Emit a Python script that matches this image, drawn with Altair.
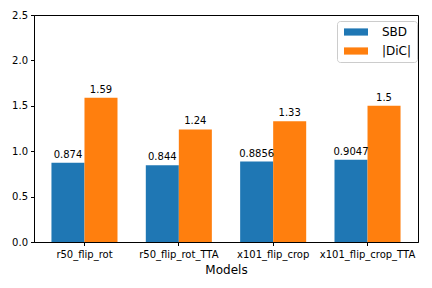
import altair as alt
import pandas as pd

models = ["r50_flip_rot", "r50_flip_rot_TTA", "x101_flip_crop", "x101_flip_crop_TTA"]
sbd = [0.874, 0.844, 0.8856, 0.9047]
dic = [1.59, 1.24, 1.33, 1.5]
sbd_labels = ["0.874", "0.844", "0.8856", "0.9047"]
dic_labels = ["1.59", "1.24", "1.33", "1.5"]
series = ["SBD", "|DiC|"]
colors = ["#1f77b4", "#ff7f0e"]

rows = []
for m, v, l in zip(models, sbd, sbd_labels):
    rows.append({"model": m, "series": series[0], "value": v, "label": l})
for m, v, l in zip(models, dic, dic_labels):
    rows.append({"model": m, "series": series[1], "value": v, "label": l})
df = pd.DataFrame(rows)

FONT = "DejaVu Sans"

xenc = alt.X("model:N", sort=models, title="Models",
             scale=alt.Scale(paddingInner=0.3, paddingOuter=0.185),
             axis=alt.Axis(labelAngle=0, labelFontSize=10, titleFontSize=12,
                           labelColor="black", titleColor="black", tickColor="black",
                           domainColor="black", tickSize=3.5, labelPadding=4,
                           titlePadding=5, titleFontWeight="normal"))
xoff = alt.XOffset("series:N", sort=series, scale=alt.Scale(paddingInner=0, paddingOuter=0))
yenc = alt.Y("value:Q", title=None,
             scale=alt.Scale(domain=[0, 2.5], nice=False),
             axis=alt.Axis(values=[0, 0.5, 1.0, 1.5, 2.0, 2.5], format=".1f", grid=False,
                           labelFontSize=10, labelColor="black", tickColor="black",
                           domainColor="black", tickSize=3.5, labelPadding=3))

bars = alt.Chart(df).mark_bar().encode(
    x=xenc, xOffset=xoff, y=yenc,
    color=alt.Color("series:N", sort=series,
                    scale=alt.Scale(domain=series, range=colors),
                    legend=alt.Legend(title=None, orient="none", legendX=303, legendY=6,
                                      labelFontSize=12, labelColor="black",
                                      symbolType="M-0.667,-0.6L3.333,-0.6L3.333,0.6L-0.667,0.6Z",
                                      symbolSize=144, symbolStrokeWidth=0,
                                      strokeColor="#cccccc", cornerRadius=3, padding=5,
                                      fillColor="white", rowPadding=7, labelOffset=28)),
)

texts = alt.Chart(df).mark_text(baseline="bottom", dy=-3, fontSize=10, color="black", font=FONT).encode(
    x=alt.X("model:N", sort=models), xOffset=alt.XOffset("series:N", sort=series), y="value:Q", text="label:N"
)

chart = (bars + texts).properties(
    width=384, height=227,
    autosize=alt.AutoSizeParams(type="none"),
    padding={"left": 26, "top": 7, "right": 6, "bottom": 38},
).configure(font=FONT).configure_view(stroke="black", strokeWidth=1)

chart.save("out.html", embed_options={"renderer": "svg", "actions": False})
